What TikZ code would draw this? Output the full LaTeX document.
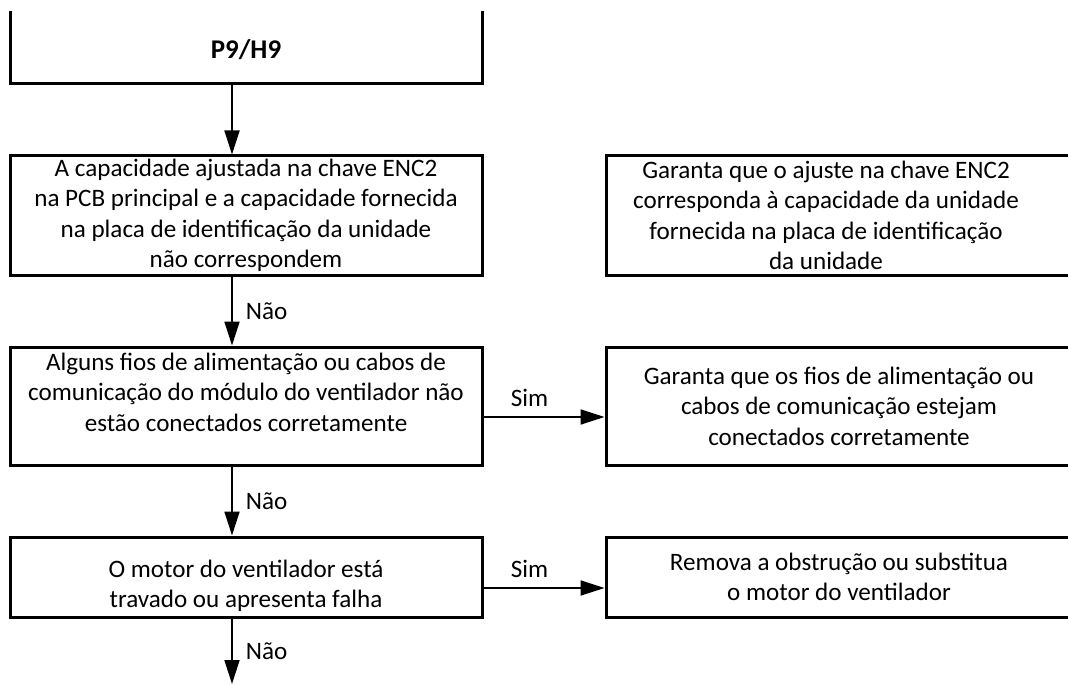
\documentclass[tikz,border=0pt]{standalone}
\usepackage{fontspec}
\setmainfont{Carlito}
\usetikzlibrary{arrows.meta, positioning}

\begin{document}
\begin{tikzpicture}[
    x=0.5pt, y=-0.5pt,
    every node/.style={font=\fontsize{12.55}{15.2}\selectfont},
    check/.style={rectangle, draw, line width=1.5pt, align=center, inner sep=0pt, minimum width=236pt},
    fix/.style={rectangle, draw, line width=1.5pt, align=center, inner sep=0pt, minimum width=233pt},
    flow/.style={draw, line width=0.9pt, -{Triangle[length=12pt, width=7.5pt]}},
    answer/.style={inner sep=0pt}
  ]

  \useasboundingbox (0,0) rectangle (1068,684);
  \clip (0,12) rectangle (1068,684);

  % left column
  \node[check, minimum height=62pt] (code) at (246,22) {};
  \node[font=\fontsize{13.5}{16}\selectfont\bfseries] (codetxt) at (246,50) {P9/H9};
  \node[check, minimum height=59.5pt] (enc) at (246,215.5)
    {A capacidade ajustada na chave ENC2\\na PCB principal e a capacidade fornecida\\na placa de identificação da unidade\\não correspondem};
  \node[check, minimum height=59pt,
        label={[align=center, yshift=7pt]center:Alguns fios de alimentação ou cabos de\\comunicação do módulo do ventilador não\\estão conectados corretamente}] (wire) at (246,406) {};
  \node[check, minimum height=40pt,
        label={[align=center, yshift=-4.5pt]center:O motor do ventilador está\\travado ou apresenta falha}] (motor) at (246,577) {};
  \coordinate (next) at (232,684);

  % right column
  \node[fix, minimum height=59.5pt,
        label={[align=center, xshift=-6.5pt]center:Garanta que o ajuste na chave ENC2\\corresponda à capacidade da unidade\\fornecida na placa de identificação\\da unidade}] (encfix) at (839,215.5) {};
  \node[fix, minimum height=59pt] (wirefix) at (839,406)
    {Garanta que os fios de alimentação ou\\cabos de comunicação estejam\\conectados corretamente};
  \node[fix, minimum height=40pt] (motorfix) at (839,577)
    {Remova a obstrução ou substitua\\o motor do ventilador};

  % connectors
  \draw[flow] ([xshift=-7pt]code.south) -- ([xshift=-7pt]enc.north);
  \draw[flow] ([xshift=-7pt]enc.south) -- node[answer, right=6.5pt] {Não} ([xshift=-7pt]wire.north);
  \draw[flow] ([xshift=-7pt]wire.south) -- node[answer, right=6.5pt] {Não} ([xshift=-7pt]motor.north);
  \draw[flow] ([xshift=-7pt]motor.south) -- node[answer, right=6.5pt] {Não} (next);
  \draw[flow] ([yshift=-5.5pt]wire.east) -- node[answer, pos=0.38, yshift=9.5pt] {Sim} ([yshift=-5.5pt]wirefix.west);
  \draw[flow] ([yshift=-5.5pt]motor.east) -- node[answer, pos=0.38, yshift=9.5pt] {Sim} ([yshift=-5.5pt]motorfix.west);

\end{tikzpicture}
\end{document}
